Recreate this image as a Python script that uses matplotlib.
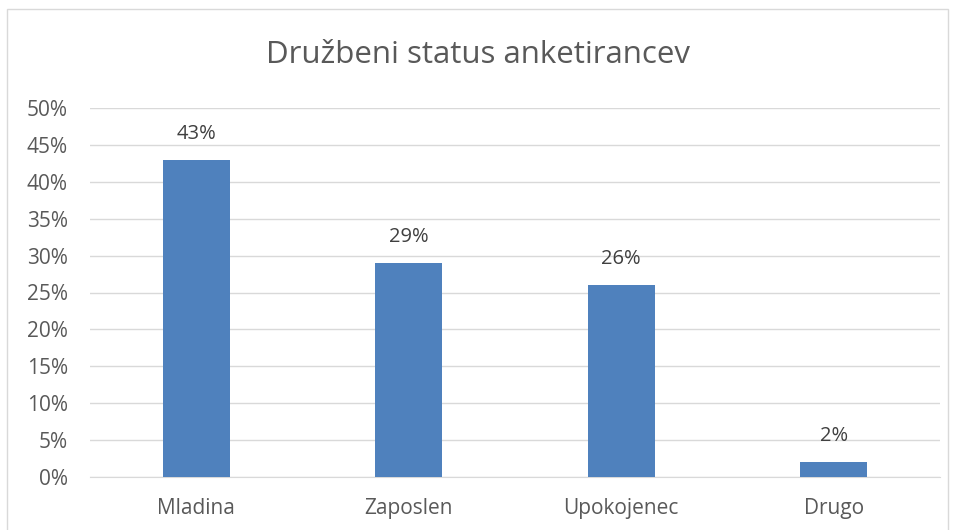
import matplotlib.pyplot as plt
from matplotlib.patches import Rectangle

plt.rcParams['font.family'] = ['Open Sans', 'DejaVu Sans']

categories = ['Mladina', 'Zaposlen', 'Upokojenec', 'Drugo']
values = [43, 29, 26, 2]
yticks = [0, 5, 10, 15, 20, 25, 30, 35, 40, 45, 50]

fig = plt.figure(figsize=(9.55, 5.3), dpi=100)
fig.patches.append(Rectangle((7 / 955, -0.01), 941 / 955, 1 - 9 / 530 + 0.01,
                             transform=fig.transFigure, fill=False,
                             edgecolor='#D9D9D9', linewidth=1))

ax = fig.add_axes([90 / 955, 53 / 530, 850 / 955, 369 / 530])
x = range(len(categories))
ax.bar(x, values, width=0.315, color='#4F81BD', zorder=3)
for xi, v in zip(x, values):
    ax.text(xi, v + 3.5, f'{v}%', ha='center', va='center', fontsize=14.5, color='#404040')

ax.set_xlim(-0.5, len(categories) - 0.5)
ax.set_ylim(0, 50)
ax.set_yticks(yticks)
ax.set_yticklabels([f'{t}%' for t in yticks])
ax.set_xticks(list(x))
ax.set_xticklabels(categories)
ax.tick_params(axis='both', length=0, labelsize=15, labelcolor='#595959')
ax.tick_params(axis='x', pad=15)
ax.tick_params(axis='y', pad=16)
ax.grid(axis='y', color='#D9D9D9', linewidth=1, zorder=0)
for s in ['top', 'right', 'left']:
    ax.spines[s].set_visible(False)
ax.spines['bottom'].set_color('#D9D9D9')

fig.text(0.5, 1 - 55 / 530, 'Družbeni status anketirancev', ha='center', va='center',
         fontsize=22.5, color='#595959')

fig.savefig('out.png', dpi=100)
